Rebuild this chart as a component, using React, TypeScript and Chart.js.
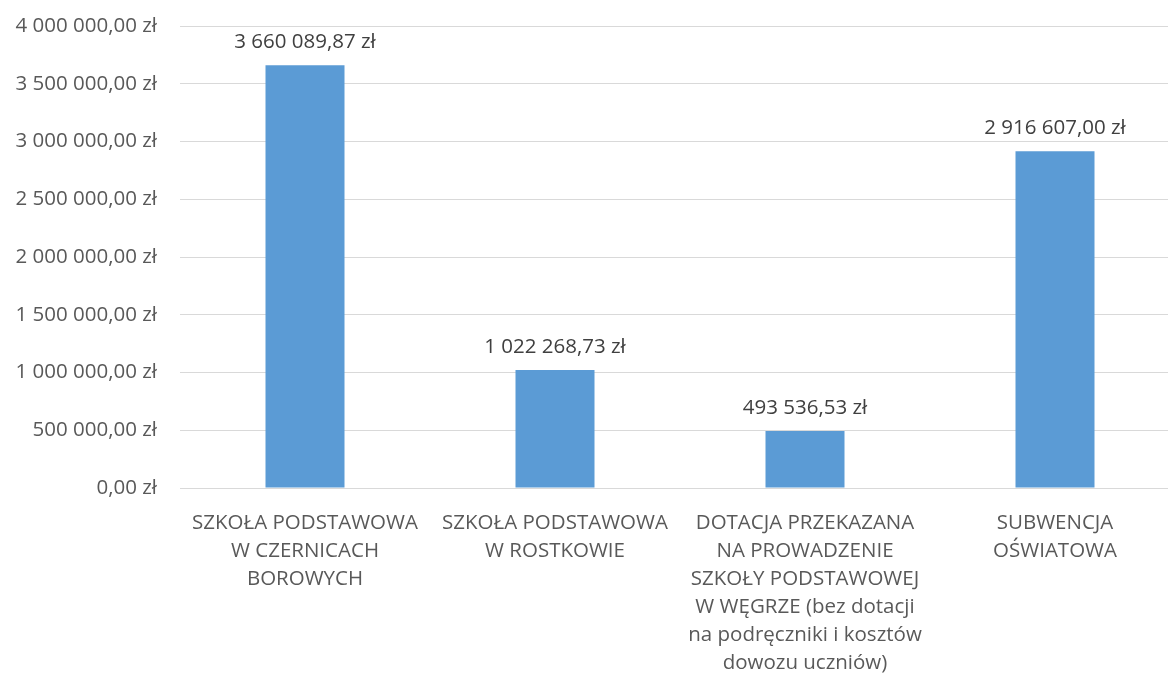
import React, { useEffect, useRef } from "react";
import { Chart, registerables } from "chart.js";

Chart.register(...registerables);

const categories: string[][] = [
  ["SZKOŁA PODSTAWOWA", "W CZERNICACH", "BOROWYCH"],
  ["SZKOŁA PODSTAWOWA", "W ROSTKOWIE"],
  [
    "DOTACJA PRZEKAZANA",
    "NA PROWADZENIE",
    "SZKOŁY PODSTAWOWEJ",
    "W WĘGRZE (bez dotacji",
    "na podręczniki i kosztów",
    "dowozu uczniów)",
  ],
  ["SUBWENCJA", "OŚWIATOWA"],
];
const values: number[] = [3660089.87, 1022268.73, 493536.53, 2916607.0];
const yMin = 0;
const yMax = 4000000;
const yStep = 500000;

const FONT = "'Open Sans', sans-serif";
const FSIZE = 20.5;

function formatPLN(v: number): string {
  const fixed = Math.abs(v).toFixed(2);
  const [intPart, dec] = fixed.split(".");
  const grouped = intPart.replace(/\B(?=(\d{3})+(?!\d))/g, " ");
  return (v < 0 ? "-" : "") + grouped + "," + dec + " zł";
}

const valueLabels = {
  id: "valueLabels",
  afterDatasetsDraw(chart: any) {
    const ctx = chart.ctx;
    const meta = chart.getDatasetMeta(0);
    ctx.save();
    ctx.font = `${FSIZE}px ${FONT}`;
    ctx.fillStyle = "#404040";
    ctx.textAlign = "center";
    ctx.textBaseline = "middle";
    meta.data.forEach((bar: any, i: number) => {
      ctx.fillText(formatPLN(values[i]), bar.x, bar.y - 23);
    });
    ctx.restore();
  },
};

export default function App() {
  const ref = useRef<HTMLCanvasElement>(null);
  useEffect(() => {
    if (!ref.current) return;
    const chart = new Chart(ref.current, {
      type: "bar",
      data: {
        labels: categories,
        datasets: [
          {
            data: values,
            backgroundColor: "#5B9BD5",
            borderWidth: 0,
            categoryPercentage: 1,
            barPercentage: 0.316,
          },
        ],
      },
      options: {
        responsive: false,
        animation: false,
        layout: { padding: { top: 26, left: 0, right: 0, bottom: 0 } },
        plugins: {
          legend: { display: false },
          tooltip: { enabled: false },
        },
        scales: {
          x: {
            grid: { display: false, drawTicks: false },
            border: { display: false },
            ticks: {
              color: "#595959",
              font: { family: FONT, size: FSIZE, lineHeight: "28px" as any },
              padding: 21,
              maxRotation: 0,
              autoSkip: false,
            },
            afterFit(scale: any) {
              scale.height = 675 - 488;
              scale.paddingLeft = 0;
              scale.paddingRight = 0;
            },
          },
          y: {
            min: yMin,
            max: yMax,
            grid: { color: "#D9D9D9", lineWidth: 1, drawTicks: false },
            border: { display: false },
            ticks: {
              stepSize: yStep,
              color: "#595959",
              font: { family: FONT, size: FSIZE },
              padding: 23,
              callback: (v: any) => formatPLN(Number(v)),
            },
            afterFit(scale: any) {
              scale.width = 180;
              scale.paddingTop = 0;
              scale.paddingBottom = 0;
            },
          },
        },
      },
      plugins: [valueLabels],
    });
    return () => chart.destroy();
  }, []);
  return (
    <div
      style={{
        position: "absolute",
        left: 0,
        top: 0,
        width: 1168,
        height: 675,
        overflow: "hidden",
        background: "#fff",
      }}
    >
      <canvas ref={ref} width={1180} height={675} style={{ width: 1180, height: 675, display: "block" }} />
    </div>
  );
}
